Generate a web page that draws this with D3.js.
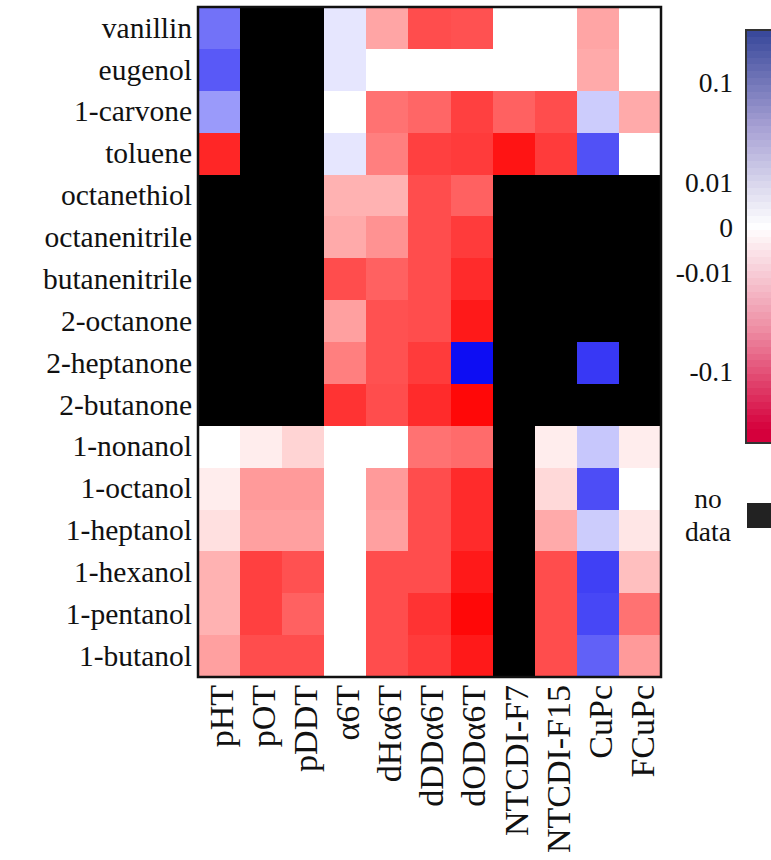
<!DOCTYPE html>
<html><head><meta charset="utf-8">
<script src="https://cdn.jsdelivr.net/npm/d3@7"></script>
<style>
html,body{margin:0;padding:0;background:#fff;}
text{font-family:"Liberation Serif","Times New Roman",serif;fill:#111;}
</style></head>
<body><svg id="chart" width="771" height="860"></svg>
<script>
// ---- data ----
const analytes = ["vanillin","eugenol","1-carvone","toluene","octanethiol","octanenitrile","butanenitrile","2-octanone","2-heptanone","2-butanone","1-nonanol","1-octanol","1-heptanol","1-hexanol","1-pentanol","1-butanol"];
const materials = ["pHT","pOT","pDDT","\u03b16T","dH\u03b16T","dDD\u03b16T","dOD\u03b16T","NTCDI-F7","NTCDI-F15","CuPc","FCuPc"];
// response per analyte (rows) x material (cols); null = no data
const vanillin      = [0.052, null, null, 0.0035, -0.021, -0.095, -0.088, 0, 0, -0.021, 0];
const eugenol       = [0.078, null, null, 0.0035, 0, 0, 0, 0, 0, -0.019, 0];
const carvone       = [0.026, null, null, 0, -0.052, -0.064, -0.116, -0.069, -0.095, 0.0086, -0.019];
const toluene       = [-0.17, null, null, 0.0035, -0.042, -0.116, -0.125, -0.222, -0.125, 0.088, 0];
const octanethiol   = [null, null, null, -0.016, -0.016, -0.095, -0.069, null, null, null, null];
const octanenitrile = [null, null, null, -0.019, -0.030, -0.095, -0.125, null, null, null, null];
const butanenitrile = [null, null, null, -0.095, -0.069, -0.095, -0.158, null, null, null, null];
const octanone2     = [null, null, null, -0.023, -0.088, -0.095, -0.206, null, null, null, null];
const heptanone2    = [null, null, null, -0.042, -0.088, -0.125, 0.248, null, null, 0.13, null];
const butanone2     = [null, null, null, -0.14, -0.095, -0.158, -0.268, null, null, null, null];
const nonanol1      = [0, -0.0023, -0.0069, 0, 0, -0.052, -0.059, null, -0.0023, 0.0099, -0.0023];
const octanol1      = [-0.0023, -0.026, -0.026, 0, -0.026, -0.095, -0.158, null, -0.0058, 0.095, 0];
const heptanol1     = [-0.0044, -0.023, -0.023, 0, -0.023, -0.095, -0.158, null, -0.019, 0.0086, -0.0035];
const hexanol1      = [-0.016, -0.116, -0.088, 0, -0.095, -0.095, -0.206, null, -0.095, 0.116, -0.012];
const pentanol1     = [-0.016, -0.116, -0.069, 0, -0.095, -0.14, -0.268, null, -0.095, 0.103, -0.052];
const butanol1      = [-0.023, -0.095, -0.095, 0, -0.095, -0.125, -0.206, null, -0.095, 0.069, -0.026];
const rows = [vanillin,eugenol,carvone,toluene,octanethiol,octanenitrile,butanenitrile,octanone2,heptanone2,butanone2,nonanol1,octanol1,heptanol1,hexanol1,pentanol1,butanol1];
const colorbarTicks = [0.1, 0.01, 0, -0.01, -0.1];
const colorbarTickLabels = ["0.1","0.01","0","-0.01","-0.1"];
const noDataLabel = ["no","data"];

// ---- layout ----
const svg = d3.select("#chart");
const plot = {x0:198, x1:661, y0:7, y1:677};
const x = d3.scaleBand().domain(materials).range([plot.x0, plot.x1]);
const y = d3.scaleBand().domain(analytes).range([plot.y0, plot.y1]);
const C = 0.008;
const mag = d3.scaleSymlog().constant(C).domain([0, 0.3]).range([0, 1]).clamp(true);
const redI = d3.interpolateRgb("#ffffff", "#ff0000");
const blueI = d3.interpolateRgb("#ffffff", "#0000f2");
function cellColor(v){
  if (v === null) return "#000";
  if (v === 0) return "#fff";
  return v > 0 ? blueI(mag(v)) : redI(mag(-v));
}

const cells = [];
rows.forEach((r,i)=>r.forEach((v,j)=>cells.push({a:analytes[i], m:materials[j], v})));
svg.append("g").selectAll("rect").data(cells).join("rect")
  .attr("x", d=>x(d.m)).attr("y", d=>y(d.a))
  .attr("width", x.bandwidth()+0.5).attr("height", y.bandwidth()+0.5)
  .attr("fill", d=>cellColor(d.v))
  .attr("shape-rendering","crispEdges");

svg.append("rect").attr("x",plot.x0).attr("y",plot.y0)
  .attr("width",plot.x1-plot.x0).attr("height",plot.y1-plot.y0)
  .attr("fill","none").attr("stroke","#111").attr("stroke-width",2.5);

// row labels
svg.append("g").selectAll("text").data(analytes).join("text")
  .attr("x", plot.x0-6).attr("y", d=>y(d)+y.bandwidth()/2)
  .attr("dy","0.33em").attr("text-anchor","end")
  .style("font-size","29.5px").text(d=>d);

// column labels
svg.append("g").selectAll("text").data(materials).join("text")
  .attr("transform", d=>`translate(${x(d)+x.bandwidth()/2+2},${plot.y1+8}) rotate(-90)`)
  .attr("dy","0.35em").attr("text-anchor","end")
  .style("font-size","34px").text(d=>d);

// ---- colorbar ----
const cb = {x:746, w:45, y0:30, y1:443};
const cbScale = d3.scaleSymlog().constant(C).domain([0.27, -0.383]).range([cb.y0, cb.y1]);
const posMid = d3.scaleLinear().domain([0,0.5,1]).range(["#ffffff","#a59fd3","#2f4196"]);
const negMid = d3.scaleLinear().domain([0,0.5,1]).range(["#ffffff","#ee8ea4","#d5003c"]);
const nb = 60;
const bands = d3.range(nb).map(i=>{
  const ya = cb.y0 + (cb.y1-cb.y0)*i/nb, yb = cb.y0 + (cb.y1-cb.y0)*(i+1)/nb;
  const v = cbScale.invert((ya+yb)/2);
  const t = mag(Math.abs(v));
  return {ya, yb, c: v>=0 ? posMid(t) : negMid(t)};
});
svg.append("g").selectAll("rect").data(bands).join("rect")
  .attr("x", cb.x).attr("y", d=>d.ya).attr("width", cb.w).attr("height", d=>d.yb-d.ya+0.5)
  .attr("fill", d=>d.c).attr("shape-rendering","crispEdges");
svg.append("rect").attr("x",cb.x).attr("y",cb.y0).attr("width",cb.w).attr("height",cb.y1-cb.y0)
  .attr("fill","none").attr("stroke","#333").attr("stroke-width",2);

svg.append("g").selectAll("text").data(colorbarTicks).join("text")
  .attr("x", 733).attr("y", d=>cbScale(d)).attr("dy","0.35em")
  .attr("text-anchor","end").style("font-size","27.5px")
  .text((d,i)=>colorbarTickLabels[i]);

// no data legend
svg.append("rect").attr("x",747).attr("y",503).attr("width",40).attr("height",25).attr("fill","#222");
svg.append("g").selectAll("text").data(noDataLabel).join("text")
  .attr("x", 708).attr("y", (d,i)=>500+i*33).attr("dy","0.3em")
  .attr("text-anchor","middle").style("font-size","27.5px").text(d=>d);
</script></body></html>
